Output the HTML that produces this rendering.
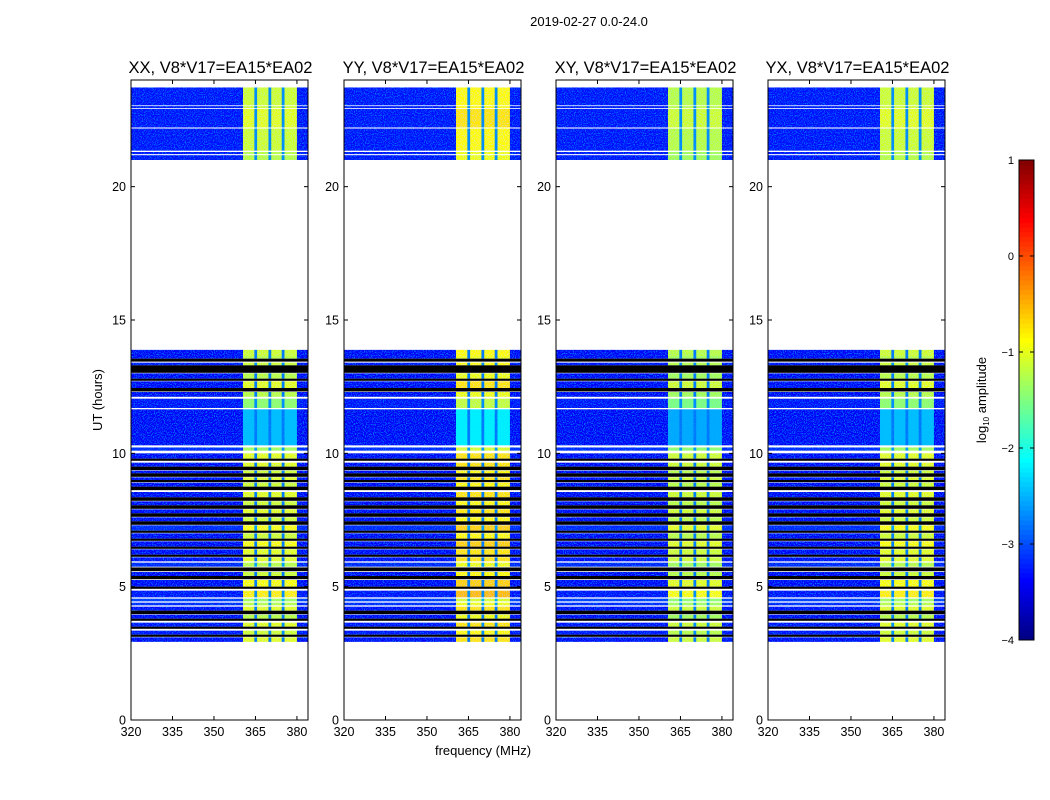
<!DOCTYPE html>
<html><head><meta charset="utf-8">
<style>
body{margin:0;background:#fff;}
svg{display:block;font-family:"Liberation Sans",sans-serif;}
text{fill:#000;}
</style></head>
<body>
<svg id="fig" width="1050" height="800" viewBox="0 0 1050 800">
<defs>
<filter id="speckle" x="0" y="0" width="100%" height="100%">
<feTurbulence type="fractalNoise" baseFrequency="0.9" numOctaves="1" seed="3" result="n"/>
<feColorMatrix in="n" type="matrix" values="0 0 0 0 0.0  0 0 0 0 0.6  0 0 0 0 1  0 0 0 1.4 -0.72" result="nc"/>
<feComposite in="nc" in2="SourceGraphic" operator="in" result="nm"/>
<feMerge><feMergeNode in="SourceGraphic"/><feMergeNode in="nm"/></feMerge>
</filter>
</defs>
<text x="589" y="26" font-size="13" text-anchor="middle">2019-02-27 0.0-24.0</text>
<text x="483" y="755" font-size="13" text-anchor="middle">frequency (MHz)</text>
<text transform="translate(102,400) rotate(-90)" font-size="13" text-anchor="middle">UT (hours)</text>
<g id="panels"></g>
<g id="cbar"></g>
</svg>
<script>
// ---- data ----
const panelTitles = ["XX, V8*V17=EA15*EA02","YY, V8*V17=EA15*EA02","XY, V8*V17=EA15*EA02","YX, V8*V17=EA15*EA02"];
const panelBoost = [0, 0.25, -0.1, 0];
// time segments: start hour, end hour, background log-amp, band log-amp (null = flagged/black)
const segStart = [21.0,21.22,21.35,22.22,22.95,23.05,
 2.93,3.12,3.2,3.42,3.5,3.72,3.8,3.97,4.1,4.3,4.45,4.6,4.92,5.0,5.28,5.4,5.58,5.75,5.95,
 6.12,6.2,6.42,6.5,6.72,6.8,7.02,7.1,7.32,7.45,7.62,7.75,7.92,8.05,8.22,8.35,8.62,8.75,8.92,9.0,9.12,9.25,9.37,9.5,9.72,9.8,10.1,
 10.3,11.7,12.12,12.32,12.45,12.72,12.8,13.02,13.3,13.44,13.55,13.65];
const segEnd = [21.18,21.3,22.18,22.92,23.02,23.72,
 3.1,3.2,3.35,3.5,3.65,3.8,3.95,4.1,4.25,4.4,4.55,4.85,5.0,5.25,5.4,5.55,5.72,5.9,6.1,
 6.2,6.4,6.5,6.7,6.8,7.0,7.1,7.3,7.45,7.6,7.75,7.9,8.05,8.2,8.35,8.55,8.75,8.9,9.0,9.1,9.25,9.35,9.5,9.65,9.8,10.0,10.22,
 11.65,12.05,12.3,12.45,12.7,12.8,13.0,13.3,13.4,13.55,13.65,13.88];
const segBase = [-3.3,-3.3,-3.3,-3.3,-3.3,-3.3,
 -3.4,null,-3.3,null,-3.3,null,-3.4,null,-3.4,-3.2,-3.1,-3.3,null,-3.4,null,-3.4,null,-3.2,-3.4,
 null,-3.4,null,-3.4,null,-3.4,null,-3.2,null,-3.4,null,-3.4,null,-3.4,null,-3.4,null,-3.4,null,-3.4,null,-3.4,null,-3.4,null,-3.4,-3.2,
 -3.4,-3.3,-3.4,null,-3.4,null,-3.4,null,-3.3,null,-3.4,-3.4];
const segBand = [-1.2,-1.2,-1.1,-1.0,-1.1,-1.1,
 -1.0,null,-1.1,null,-1.0,null,-1.2,null,-1.0,-1.2,-1.3,-0.8,null,-0.9,null,-1.1,null,-1.2,-1.0,
 null,-1.0,null,-0.9,null,-1.1,null,-0.9,null,-1.1,null,-1.0,null,-1.1,null,-1.0,null,-1.1,null,-1.0,null,-1.1,null,-1.0,null,-1.0,-1.3,
 -2.45,-1.4,-1.2,null,-1.0,null,-1.2,null,-1.1,null,-1.2,-1.1];
const bandLo = [320,360.5,364.6,365.6,369.7,370.7,374.5,375.5,380];
const bandHi = [360.5,364.6,365.6,369.7,370.7,374.5,375.5,380,384];
const bandKind = ["bg","band","line","band","line","band","line","band","bg"];
const xTicks = [320,335,350,365,380];
const yTicks = [0,5,10,15,20];
const cbTicks = [1,0,-1,-2,-3,-4];
const panelLeft = [131,344,556,768];

// ---- geometry ----
const PW=177, plotTop=80, plotBot=720, fMin=320, fMax=384, tMin=0, tMax=24;
const yS = h => plotBot - (h - tMin)/(tMax - tMin)*(plotBot - plotTop);
const NS="http://www.w3.org/2000/svg";
function mk(tag, attrs, parent){const e=document.createElementNS(NS,tag);for(const k in attrs)e.setAttribute(k,attrs[k]);parent.appendChild(e);return e;}
function jet(v){let t=(v+4)/5;t=Math.max(0,Math.min(1,t));
 const c=x=>Math.round(255*Math.max(0,Math.min(1,x)));
 return `rgb(${c(1.5-Math.abs(4*t-3))},${c(1.5-Math.abs(4*t-2))},${c(1.5-Math.abs(4*t-1))})`;}

const G=document.getElementById('panels');
panelLeft.forEach((L,p)=>{
 const xS = f => L + (f - fMin)/(fMax - fMin)*PW;
 const g=mk('g',{},G);
 
 
 const img=mk('g',{filter:'url(#speckle)'},g);
 
 
 const flag=mk('g',{},g);
 
 
 for(let i=0;i<segStart.length;i++){
  const y0=yS(segEnd[i]), y1=yS(segStart[i]);
  if(segBase[i]===null){
   const r=mk('rect',{x:xS(fMin),y:y0.toFixed(2),width:PW,height:(y1-y0).toFixed(2),fill:'#000'},flag);
   
   
   continue;
  }
  for(let b=0;b<bandLo.length;b++){
   let col;
   if(bandKind[b]==='bg') col=jet(segBase[i]);
   else if(bandKind[b]==='line') col=jet(segBase[i]+0.6);
   else col=jet(segBand[i]+panelBoost[p]);
   const r=mk('rect',{x:xS(bandLo[b]).toFixed(2),y:y0.toFixed(2),width:(xS(bandHi[b])-xS(bandLo[b])+0.3).toFixed(2),height:(y1-y0).toFixed(2),fill:col},img);
   
   
  }
 }
 const fr=mk('rect',{x:L,y:plotTop,width:PW,height:plotBot-plotTop,fill:'none',stroke:'#000','stroke-width':1},g);
 
 
 const tt=mk('text',{x:L+PW/2+1,y:73,'font-size':16.5,'text-anchor':'middle'},g);
 tt.textContent=panelTitles[p];
 
 
 xTicks.forEach(f=>{
  const x=xS(f);
  mk('line',{x1:x,x2:x,y1:plotBot,y2:plotBot-4,stroke:'#000'},g);
  mk('line',{x1:x,x2:x,y1:plotTop,y2:plotTop+4,stroke:'#000'},g);
  const t=mk('text',{x:x,y:plotBot+16,'font-size':12.5,'text-anchor':'middle'},g);
  t.textContent=f;
  
  
 });
 yTicks.forEach(h=>{
  const y=yS(h);
  mk('line',{x1:L,x2:L+4,y1:y,y2:y,stroke:'#000'},g);
  mk('line',{x1:L+PW,x2:L+PW-4,y1:y,y2:y,stroke:'#000'},g);
  const t=mk('text',{x:L-5,y:y+4.5,'font-size':12.5,'text-anchor':'end'},g);
  t.textContent=h;
  
  
 });
});

// colorbar
const CB=document.getElementById('cbar');


const cbx=1019, cbw=15, cbt=160, cbb=640;
const cy = v => cbb - (v+4)/5*(cbb-cbt);
for(let k=0;k<100;k++){
 const v=-4+5*(k+0.5)/100;
 mk('rect',{x:cbx,y:(cy(-4+5*(k+1)/100)).toFixed(2),width:cbw,height:((cbb-cbt)/100+0.5).toFixed(2),fill:jet(v)},CB);
}
mk('rect',{x:cbx,y:cbt,width:cbw,height:cbb-cbt,fill:'none',stroke:'#000'},CB);
cbTicks.forEach(v=>{
 const y=cy(v);
 mk('line',{x1:cbx,x2:cbx+4,y1:y,y2:y,stroke:'#000'},CB);
 mk('line',{x1:cbx+cbw,x2:cbx+cbw-4,y1:y,y2:y,stroke:'#000'},CB);
 const t=mk('text',{x:cbx-5,y:y+4,'font-size':11,'text-anchor':'end'},CB);
 t.textContent=v<0?'\u2212'+(-v):String(v);
 
 
});
const cl=mk('text',{transform:'translate(986,400) rotate(-90)','font-size':13,'text-anchor':'middle'},CB);
cl.innerHTML='log<tspan font-size="8" dy="3">10</tspan><tspan dy="-3"> amplitude</tspan>';


</script>
</body></html>
